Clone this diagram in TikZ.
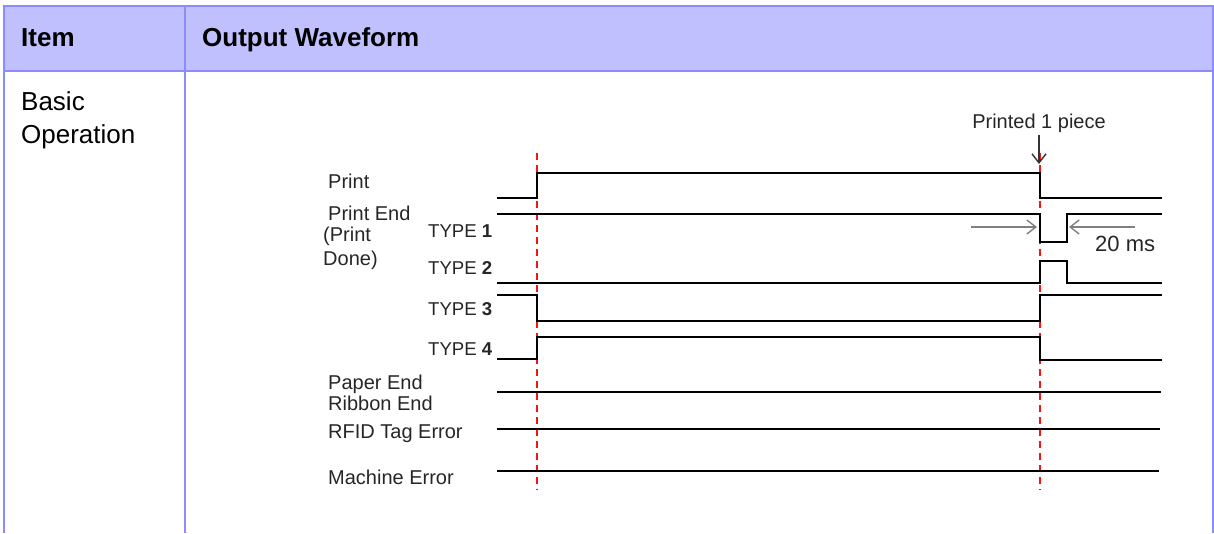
\documentclass[tikz,border=0pt]{standalone}
\usepackage{fontspec}
\setmainfont{Liberation Sans}
\usetikzlibrary{arrows.meta}
\definecolor{headfill}{HTML}{C0C0FF}
\definecolor{gridline}{HTML}{8C8CFF}
\definecolor{cuered}{HTML}{FF1010}
\tikzset{
  wave/.style={line width=2.9pt, line join=miter},
  cue/.style={cuered, line width=1.6pt, dash pattern=on 7pt off 5pt},
  big/.style={font=\fontsize{26}{30}\selectfont, inner sep=0pt, anchor=base west},
  head/.style={big, font=\fontsize{26}{30}\selectfont\bfseries},
  lbl/.style={font=\fontsize{20}{24}\selectfont, inner sep=0pt, anchor=base west, text=black!85},
  typelbl/.style={lbl, font=\fontsize{18.6}{22}\selectfont},
  barb/.style={-{Straight Barb[length=9pt,width=14pt]}, line width=1.4pt},
}

\begin{document}
\begin{tikzpicture}[x=1pt, y=-1pt]
\useasboundingbox (0,0) rectangle (1214,533);

% table
\fill[headfill] (4,6) rectangle (1213,71);
\draw[gridline, line width=2pt] (4,533) -- (4,6) -- (1213,6) -- (1213,533);
\draw[gridline, line width=2pt] (4,71) -- (1213,71);
\draw[gridline, line width=2pt] (185,6) -- (185,533);

\node[head] (item) at (21,46) {Item};
\node[head] (output) at (202,46) {Output Waveform};
\node[big] (basic) at (21,110) {Basic};
\node[big] (operation) at (21,143) {Operation};

% signal names
\node[lbl] (print) at (328,188) {Print};
\node[lbl] (printend) at (328,220) {Print End};
\node[lbl] (printdone1) at (323,241) {(Print};
\node[lbl] (printdone2) at (323,265) {Done)};
\node[typelbl] (type1) at (428,237) {TYPE \textbf{1}};
\node[typelbl] (type2) at (428,274) {TYPE \textbf{2}};
\node[typelbl] (type3) at (428,315) {TYPE \textbf{3}};
\node[typelbl] (type4) at (428,355) {TYPE \textbf{4}};
\node[lbl] (paperend) at (328,389) {Paper End};
\node[lbl] (ribbonend) at (328,410) {Ribbon End};
\node[lbl] (rfid) at (328,438) {RFID Tag Error};
\node[lbl] (machine) at (328,484) {Machine Error};

% timing marks
\draw[cue] (537,153) -- (537,490);
\draw[cue] (1040,153) -- (1040,490);

% waveforms
\draw[wave] (497,198) -| (537,173) -| (1040,198) -- (1162,198);
\draw[wave] (497,214) -| (1040,242) -| (1067,214) -- (1162,214);
\draw[wave] (497,283) -| (1040,261) -| (1067,283) -- (1162,283);
\draw[wave] (497,295) -| (537,321) -| (1040,295) -- (1162,295);
\draw[wave] (497,359) -| (537,337) -| (1040,360) -- (1162,360);
\draw[wave] (497,392) -- (1161,392);
\draw[wave] (497,429) -- (1160,429);
\draw[wave] (497,471) -- (1159,471);

% printed 1 piece
\node[lbl, anchor=base, inner sep=3pt] (printed) at (1039,128) {Printed 1 piece};
\coordinate (drop) at (1039,164);
\draw[barb, black!80] (printed.south) -- (drop);

% 20 ms
\coordinate (msa) at (971,227);
\coordinate (msb) at (1037,227);
\coordinate (msc) at (1135,227);
\coordinate (msd) at (1069,227);
\draw[barb, black!50] (msa) -- (msb);
\draw[barb, black!50] (msc) -- (msd);
\node[lbl, font=\fontsize{22}{26}\selectfont] (ms) at (1095,251) {20 ms};
\end{tikzpicture}
\end{document}
